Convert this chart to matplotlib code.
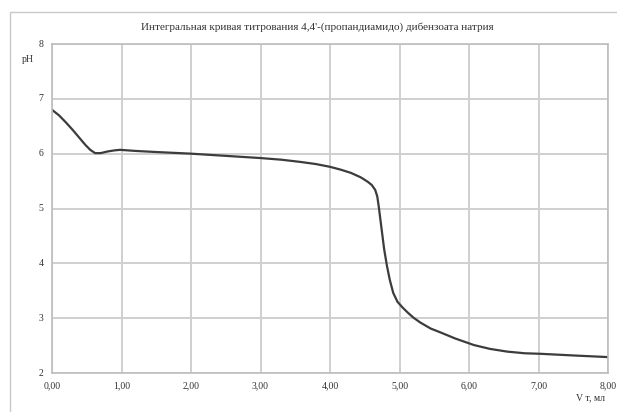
import matplotlib
matplotlib.use("Agg")
import matplotlib.pyplot as plt
from matplotlib.patches import Rectangle

# titration curve
v_ml = [0.00, 0.10, 0.20, 0.30, 0.40, 0.48, 0.55, 0.62, 0.70, 0.80, 0.90, 0.98,
        1.20, 1.50, 2.00, 2.50, 3.00, 3.30, 3.57, 3.80, 4.00, 4.15, 4.30, 4.44,
        4.54, 4.60, 4.65, 4.68, 4.70, 4.72, 4.75, 4.78, 4.82, 4.86, 4.91, 4.97,
        5.04, 5.12, 5.20, 5.30, 5.45, 5.59, 5.80, 6.07, 6.30, 6.55, 6.80, 7.03,
        7.50, 8.00]
ph = [6.80, 6.70, 6.57, 6.43, 6.28, 6.16, 6.07, 6.01, 6.01, 6.04, 6.06, 6.07,
      6.05, 6.03, 6.00, 5.96, 5.92, 5.89, 5.85, 5.81, 5.76, 5.71, 5.65, 5.57,
      5.49, 5.43, 5.34, 5.22, 5.05, 4.85, 4.55, 4.25, 3.95, 3.70, 3.46, 3.30,
      3.20, 3.10, 3.01, 2.92, 2.81, 2.74, 2.63, 2.51, 2.44, 2.39, 2.36, 2.35,
      2.32, 2.29]

x_ticks = [0, 1, 2, 3, 4, 5, 6, 7, 8]
x_labels = ["0,00", "1,00", "2,00", "3,00", "4,00", "5,00", "6,00", "7,00", "8,00"]
y_ticks = [2, 3, 4, 5, 6, 7, 8]

title = "Интегральная кривая титрования 4,4'-(пропандиамидо) дибензоата натрия"

plt.rcParams['font.family'] = ['Liberation Serif', 'DejaVu Serif']

fig = plt.figure(figsize=(6.17, 4.12), dpi=100)
fig.patches.append(Rectangle((10/617, -0.1), 1.2, 1 - 12/412 + 0.1,
                             transform=fig.transFigure, fill=False,
                             edgecolor="#c8c8c8", linewidth=1.0))

ax = fig.add_axes([52/617, 1 - 373/412, 556/617, 329/412])
ax.plot(v_ml, ph, color="#3c3c3c", linewidth=1.6, solid_joinstyle="round")

ax.set_xlim(0, 8)
ax.set_ylim(2, 8)
ax.set_xticks(x_ticks)
ax.set_xticklabels(x_labels)
ax.set_yticks(y_ticks)
ax.grid(True, color="#cfcfcf", linewidth=1.4)
ax.set_axisbelow(True)
for s in ax.spines.values():
    s.set_color("#bdbdbd")
    s.set_linewidth(1.2)
ax.tick_params(length=0, labelsize=7, colors="#333333", pad=6)
for lab in ax.get_yticklabels():
    lab.set_verticalalignment("center")

fig.text(317/617, 1 - 27/412, title, ha="center", va="center", fontsize=8, color="#333333")
fig.text(28/617, 1 - 60/412, "pH", ha="center", va="center", fontsize=7, color="#333333")
fig.text(590/617, 1 - 398/412, "V т, мл", ha="center", va="center", fontsize=7, color="#333333")

fig.savefig("out.png", dpi=100)
